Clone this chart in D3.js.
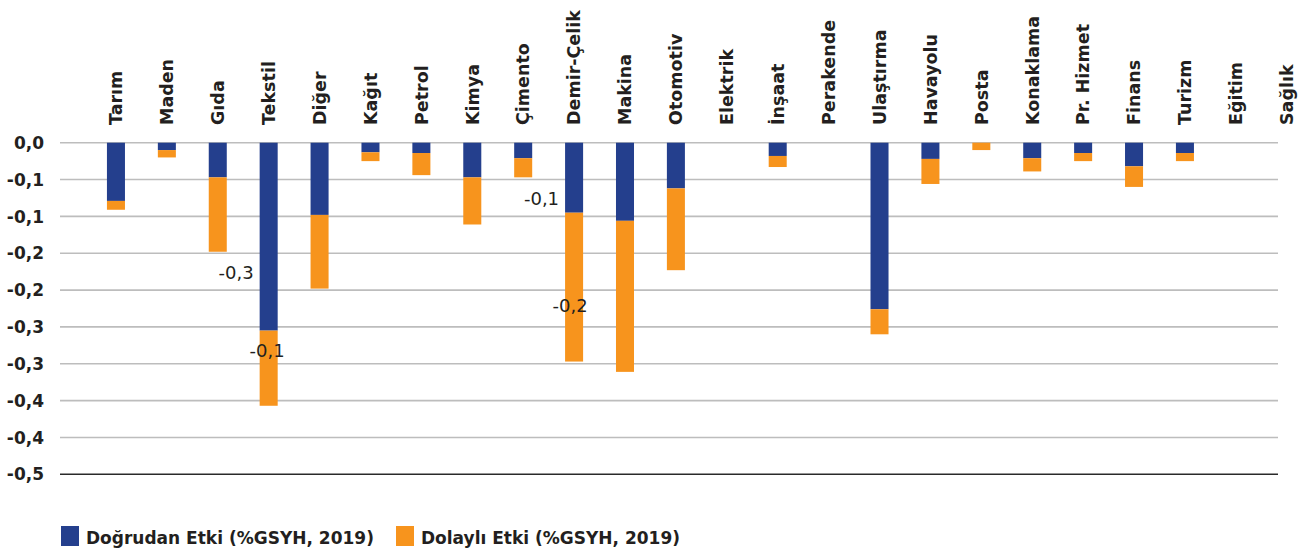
<!DOCTYPE html>
<html>
<head>
<meta charset="utf-8">
<script src="https://cdn.jsdelivr.net/npm/d3@7"></script>
<style>
  html, body { margin: 0; padding: 0; background: #ffffff; }
  svg { display: block; }
  text { font-family: "DejaVu Sans", sans-serif; fill: #231f20; }
</style>
</head>
<body>
<svg id="chart" width="1299" height="548"></svg>
<script>
// Sector categories (x axis)
const categories = ["Tarım", "Maden", "Gıda", "Tekstil", "Diğer", "Kağıt", "Petrol", "Kimya",
  "Çimento", "Demir-Çelik", "Makina", "Otomotiv", "Elektrik", "İnşaat", "Perakende",
  "Ulaştırma", "Havayolu", "Posta", "Konaklama", "Pr. Hizmet", "Finans", "Turizm", "Eğitim", "Sağlık"];

// Direct effect (% of GDP, 2019)
const direct = [-0.079, -0.010, -0.047, -0.255, -0.098, -0.013, -0.014, -0.047,
  -0.021, -0.095, -0.106, -0.062, 0, -0.018, 0,
  -0.226, -0.022, 0, -0.021, -0.014, -0.032, -0.014, 0, 0];

// Indirect effect (% of GDP, 2019)
const indirect = [-0.012, -0.010, -0.101, -0.102, -0.100, -0.012, -0.030, -0.064,
  -0.026, -0.202, -0.205, -0.111, 0, -0.015, 0,
  -0.034, -0.034, -0.010, -0.018, -0.011, -0.028, -0.011, 0, 0];

// Value axis ticks and their printed labels
const tickValues = [0, -0.05, -0.10, -0.15, -0.20, -0.25, -0.30, -0.35, -0.40, -0.45];
const tickLabels = ["0,0", "-0,1", "-0,1", "-0,2", "-0,2", "-0,3", "-0,3", "-0,4", "-0,4", "-0,5"];

// Series names shown in the legend
const seriesKeys = ["direct", "indirect"];
const seriesNames = ["Doğrudan Etki (%GSYH, 2019)", "Dolaylı Etki (%GSYH, 2019)"];

// Segments that carry a value label
const labelled = [
  { category: "Tekstil", key: "direct" },
  { category: "Tekstil", key: "indirect" },
  { category: "Demir-Çelik", key: "direct" },
  { category: "Demir-Çelik", key: "indirect" }
];

// ---------- layout & style ----------
const colors = { direct: "#243f8d", indirect: "#f7941d" };
const plot = { left: 60, right: 1278, top: 142.7, bottom: 474.3 };
const labelStyle = [
  { anchor: "end", dx: -6, dy: 36 },
  { anchor: "middle", dx: -1.5, dy: -18 },
  { anchor: "end", dx: -6, dy: 20.6 },
  { anchor: "middle", dx: -4, dy: 18.7 }
];

const svg = d3.select("#chart");

const rows = categories.map((c, i) => ({ category: c, direct: direct[i], indirect: indirect[i] }));

const x = d3.scaleBand()
  .domain(categories)
  .range([90.5, 1312.2])
  .paddingInner(0.646)
  .paddingOuter(0.323);

const y = d3.scaleLinear()
  .domain([0, -0.45])
  .range([plot.top, plot.bottom]);

// Horizontal gridlines
svg.append("g")
  .selectAll("line")
  .data(tickValues)
  .join("line")
  .attr("x1", plot.left)
  .attr("x2", plot.right)
  .attr("y1", d => y(d))
  .attr("y2", d => y(d))
  .attr("stroke", (d, i) => i === tickValues.length - 1 ? "#2a2a2a" : "#bdbdbd")
  .attr("stroke-width", 1.6);

// Value axis labels
svg.append("g")
  .selectAll("text")
  .data(tickValues)
  .join("text")
  .attr("x", 44)
  .attr("y", d => y(d))
  .attr("dy", "0.36em")
  .attr("text-anchor", "end")
  .attr("font-size", 17)
  .attr("font-weight", "bold")
  .text((d, i) => tickLabels[i]);

// Stacked bars (both series grow downward from zero)
const stacked = d3.stack()
  .keys(seriesKeys)
  .offset(d3.stackOffsetDiverging)(rows);

svg.append("g")
  .selectAll("g")
  .data(stacked)
  .join("g")
  .attr("fill", s => colors[s.key])
  .selectAll("rect")
  .data(s => s)
  .join("rect")
  .attr("x", d => x(d.data.category))
  .attr("width", x.bandwidth())
  .attr("y", d => y(Math.max(d[0], d[1])))
  .attr("height", d => Math.abs(y(d[0]) - y(d[1])));

// Category labels, rotated to read upward, starting just above the zero line
svg.append("g")
  .selectAll("text")
  .data(categories)
  .join("text")
  .attr("transform", d => `translate(${x(d) + x.bandwidth() / 2},125) rotate(-90)`)
  .attr("dy", "0.36em")
  .attr("text-anchor", "start")
  .attr("font-size", 17.5)
  .attr("font-weight", "bold")
  .text(d => d);

// Value labels on selected segments
const fmt = v => {
  const r = (Math.round(Math.abs(v) * 10) / 10).toFixed(1).replace(".", ",");
  return (v < 0 ? "-" : "") + r;
};
svg.append("g")
  .selectAll("text")
  .data(labelled)
  .join("text")
  .each(function (d, i) {
    const s = stacked.find(k => k.key === d.key);
    const seg = s[categories.indexOf(d.category)];
    const st = labelStyle[i];
    const left = x(d.category);
    const cx = st.anchor === "end" ? left + st.dx : left + x.bandwidth() / 2 + st.dx;
    const cy = (y(seg[0]) + y(seg[1])) / 2 + st.dy;
    d3.select(this)
      .attr("x", cx)
      .attr("y", cy)
      .attr("dy", "0.36em")
      .attr("text-anchor", st.anchor)
      .attr("font-size", 18)
      .attr("fill", "#333333")
      .text(fmt(seg.data[d.key]));
  });

// Legend
const legendX = [61, 396];
const legend = svg.append("g")
  .selectAll("g")
  .data(seriesKeys)
  .join("g")
  .attr("transform", (d, i) => `translate(${legendX[i]},526)`);
legend.append("rect")
  .attr("width", 18)
  .attr("height", 20)
  .attr("fill", d => colors[d]);
legend.append("text")
  .attr("x", 25)
  .attr("y", 18)
  .attr("font-size", 17)
  .attr("font-weight", "bold")
  .text((d, i) => seriesNames[i]);
</script>
</body>
</html>
